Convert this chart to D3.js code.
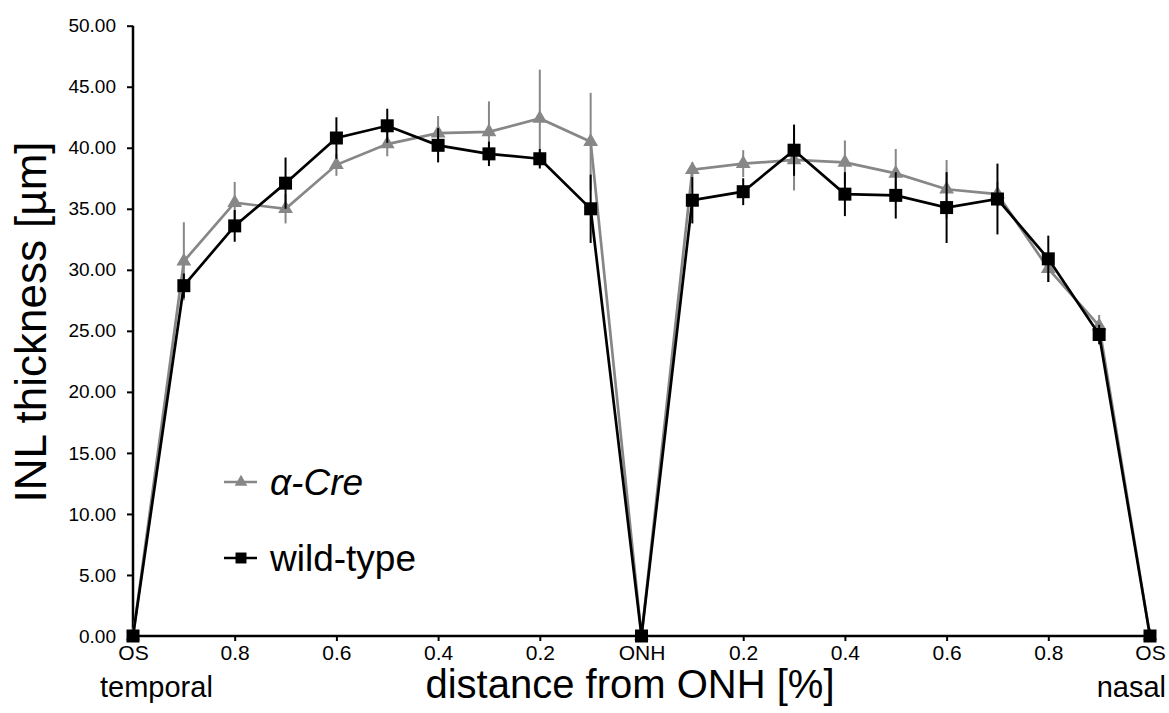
<!DOCTYPE html>
<html>
<head>
<meta charset="utf-8">
<script src="https://cdnjs.cloudflare.com/ajax/libs/d3/7.8.5/d3.min.js"></script>
<style>
  body { margin: 0; background: #fff; }
  text { font-family: "Liberation Sans", Arial, sans-serif; fill: #000; }
</style>
</head>
<body>
<script>
// position along the retina, temporal side negative, ONH = 0
let pos = [-1.0, -0.9, -0.8, -0.7, -0.6, -0.5, -0.4, -0.3, -0.2, -0.1, 0,
  0.1, 0.2, 0.3, 0.4, 0.5, 0.6, 0.7, 0.8, 0.9, 1.0]

let creMean = [0, 30.7, 35.5, 35.0, 38.6, 40.3, 41.2, 41.3, 42.4, 40.5, 0,
  38.2, 38.7, 39.0, 38.8, 37.9, 36.6, 36.2, 30.1, 25.4, 0]
let creErr = [0, 3.2, 1.7, 1.2, 0.9, 1.0, 1.4, 2.5, 4.0, 4.0, 0,
  0.6, 1.1, 2.5, 1.8, 2.0, 2.4, 1.0, 1.1, 0.9, 0]

let wtMean = [0, 28.7, 33.6, 37.1, 40.8, 41.8, 40.2, 39.5, 39.1, 35.0, 0,
  35.7, 36.4, 39.8, 36.2, 36.1, 35.1, 35.8, 30.9, 24.7, 0]
let wtErr = [0, 1.0, 1.3, 2.1, 1.7, 1.4, 1.4, 1.0, 0.8, 2.8, 0,
  1.9, 1.1, 2.1, 1.8, 1.9, 2.9, 2.9, 1.9, 0.8, 0]

let xTicks = [-1.0, -0.8, -0.6, -0.4, -0.2, 0, 0.2, 0.4, 0.6, 0.8, 1.0]
let xTickLabels = ['OS', '0.8', '0.6', '0.4', '0.2', 'ONH', '0.2', '0.4', '0.6', '0.8', 'OS']
let yTicks = [0, 5, 10, 15, 20, 25, 30, 35, 40, 45, 50]

let width = 1169, height = 713

let svg = d3.select('body').append('svg')
  .attr('width', width)
  .attr('height', height)

let x = d3.scaleLinear().domain([-1, 1]).range([133, 1150])
let y = d3.scaleLinear().domain([0, 50]).range([636, 25.7])

// y axis
let yAxis = svg.append('g')
  .attr('transform', 'translate(133,0)')
  .call(d3.axisLeft(y).tickValues(yTicks).tickFormat(d3.format('.2f')).tickSize(6).tickPadding(11))
yAxis.select('.domain').attr('stroke-width', 2.5).attr('d', `M0,${y(50)}V${y(0)}`)
yAxis.selectAll('.tick line').attr('stroke-width', 2)
yAxis.selectAll('.tick text').style('font-size', '19px')

// x axis
let xAxis = svg.append('g')
  .attr('transform', `translate(0,${y(0)})`)
  .call(d3.axisBottom(x).tickValues(xTicks)
    .tickFormat((d, i) => xTickLabels[i]).tickSize(5).tickPadding(4))
xAxis.select('.domain').attr('stroke-width', 2.5).attr('d', `M${x(-1)},0H${x(1)}`)
xAxis.selectAll('.tick line').attr('stroke-width', 2)
xAxis.selectAll('.tick text').style('font-size', '21px')

// axis titles
svg.append('text')
  .attr('transform', 'translate(46,322) rotate(-90)')
  .attr('text-anchor', 'middle')
  .style('font-size', '44px')
  .text('INL thickness [\u00b5m]')

svg.append('text')
  .attr('x', 630).attr('y', 698)
  .attr('text-anchor', 'middle')
  .style('font-size', '40px')
  .text('distance from ONH [%]')

svg.append('text')
  .attr('x', 100).attr('y', 697)
  .style('font-size', '29px')
  .text('temporal')

svg.append('text')
  .attr('x', 1166).attr('y', 697)
  .attr('text-anchor', 'end')
  .style('font-size', '29px')
  .text('nasal')

function drawSeries(mean, err, color, symbol, size) {
  let g = svg.append('g')
  let line = d3.line()
    .x((d, i) => x(pos[i]))
    .y(d => y(d))

  g.append('path')
    .datum(mean)
    .attr('d', line)
    .attr('fill', 'none')
    .attr('stroke', color)
    .attr('stroke-width', 2.7)

  g.selectAll('.err').data(mean).enter()
    .append('line')
    .attr('class', 'err')
    .attr('x1', (d, i) => x(pos[i]))
    .attr('x2', (d, i) => x(pos[i]))
    .attr('y1', (d, i) => y(d + err[i]))
    .attr('y2', (d, i) => y(d - err[i]))
    .attr('stroke', color)
    .attr('stroke-width', 2)

  g.selectAll('.pt').data(mean).enter()
    .append('path')
    .attr('class', 'pt')
    .attr('d', d3.symbol().type(symbol).size(size))
    .attr('transform', (d, i) => `translate(${x(pos[i])},${y(d)})`)
    .attr('fill', color)
}

drawSeries(creMean, creErr, '#878787', d3.symbolTriangle, 95)
drawSeries(wtMean, wtErr, '#000', d3.symbolSquare, 169)

// legend
let legend = [
  {label: '\u03b1-Cre', color: '#878787', symbol: d3.symbolTriangle, size: 70, y: 482, italic: true},
  {label: 'wild-type', color: '#000', symbol: d3.symbolSquare, size: 120, y: 558, italic: false}
]

let lg = svg.selectAll('.legend').data(legend).enter()
  .append('g')
  .attr('class', 'legend')
  .attr('transform', d => `translate(0,${d.y})`)

lg.append('line')
  .attr('x1', 224).attr('x2', 257)
  .attr('stroke', d => d.color)
  .attr('stroke-width', 2.7)

lg.append('path')
  .attr('d', d => d3.symbol().type(d.symbol).size(d.size)())
  .attr('transform', 'translate(241,0)')
  .attr('fill', d => d.color)

lg.append('text')
  .attr('x', 270)
  .attr('dy', '0.35em')
  .style('font-size', '37px')
  .style('font-style', d => d.italic ? 'italic' : 'normal')
  .text(d => d.label)
</script>
</body>
</html>
